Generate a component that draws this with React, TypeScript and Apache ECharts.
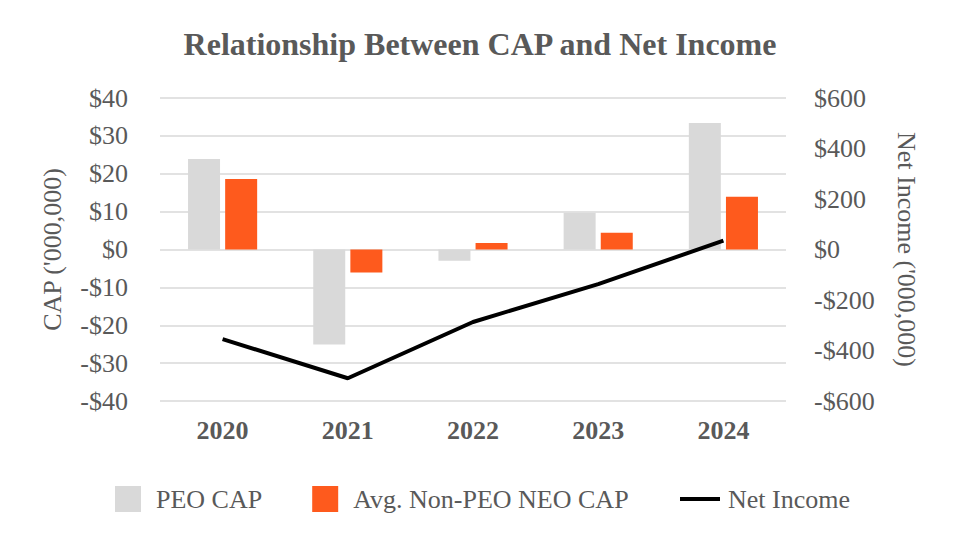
import React, { useEffect, useRef } from "react";
import * as echarts from "echarts";

const years = ["2020", "2021", "2022", "2023", "2024"];
const peoCap = [23.9, -25.1, -3.0, 9.7, 33.4];
const neoCap = [18.6, -6.1, 1.7, 4.4, 13.9];
const netIncome = [-355, -510, -287, -137, 35];
const leftTicks = { min: -40, max: 40, interval: 10 };
const rightTicks = { min: -600, max: 600, interval: 200 };

const FONT = "'Liberation Serif', 'DejaVu Serif', serif";
const TXT = "#595959";

const money = (v: number) => (v < 0 ? "-$" + Math.abs(v) : "$" + v);

export default function App() {
  const ref = useRef<HTMLDivElement>(null);
  useEffect(() => {
    if (!ref.current) return;
    const chart = echarts.init(ref.current, null, { renderer: "svg" });
    chart.setOption({
      animation: false,
      backgroundColor: "#fff",
      textStyle: { fontFamily: FONT },
      title: {
        text: "Relationship Between CAP and Net Income",
        left: "center",
        top: 23,
        textStyle: { fontFamily: FONT, fontSize: 32, fontWeight: "bold", color: TXT },
      },
      legend: [
        {
          data: ["PEO CAP", "Avg. Non-PEO NEO CAP"],
          left: 115,
          top: 486,
          padding: 0,
          icon: "rect",
          itemWidth: 26,
          itemHeight: 26,
          itemGap: 50,
          textStyle: { fontFamily: FONT, fontSize: 26, color: TXT, lineHeight: 26, padding: [0, 0, 0, 10] },
        },
        {
          data: ["Net Income"],
          left: 680,
          top: 486,
          padding: 0,
          icon: "rect",
          itemWidth: 40,
          itemHeight: 4,
          textStyle: { fontFamily: FONT, fontSize: 26, color: TXT, lineHeight: 26, padding: [0, 0, 0, 3] },
        },
      ],
      grid: { left: 160, right: 174, top: 98, bottom: 155 },
      xAxis: {
        type: "category",
        data: years,
        axisLine: { show: false, onZero: false },
        axisTick: { show: false },
        axisLabel: { fontFamily: FONT, fontSize: 26, fontWeight: "bold", color: TXT, margin: 16 },
      },
      yAxis: [
        {
          type: "value",
          ...leftTicks,
          name: "CAP ('000,000)",
          nameLocation: "middle",
          nameGap: 95,
          nameTextStyle: { fontFamily: FONT, fontSize: 26, color: TXT },
          axisLine: { show: false },
          axisTick: { show: false },
          axisLabel: { fontFamily: FONT, fontSize: 26, color: TXT, margin: 32, formatter: money },
          splitLine: { lineStyle: { color: "#d9d9d9", width: 1.5 } },
        },
        {
          type: "value",
          ...rightTicks,
          name: "Net Income ('000,000)",
          nameLocation: "middle",
          nameRotate: -90,
          nameGap: 107,
          nameTextStyle: { fontFamily: FONT, fontSize: 26, color: TXT },
          axisLine: { show: false },
          axisTick: { show: false },
          axisLabel: { fontFamily: FONT, fontSize: 26, color: TXT, margin: 28, formatter: money },
          splitLine: { show: false },
        },
      ],
      series: [
        {
          name: "PEO CAP",
          type: "bar",
          data: peoCap,
          barWidth: 32,
          barGap: "16%",
          itemStyle: { color: "#d9d9d9" },
        },
        {
          name: "Avg. Non-PEO NEO CAP",
          type: "bar",
          data: neoCap,
          barWidth: 32,
          barGap: "16%",
          itemStyle: { color: "#fe5a1d" },
        },
        {
          name: "Net Income",
          type: "line",
          yAxisIndex: 1,
          data: netIncome,
          symbol: "none",
          lineStyle: { color: "#000", width: 4 },
          itemStyle: { color: "#000" },
          z: 5,
        },
      ],
    });
    return () => chart.dispose();
  }, []);
  return (
    <div
      ref={ref}
      style={{ position: "absolute", left: 0, top: 0, width: 960, height: 556 }}
    />
  );
}
